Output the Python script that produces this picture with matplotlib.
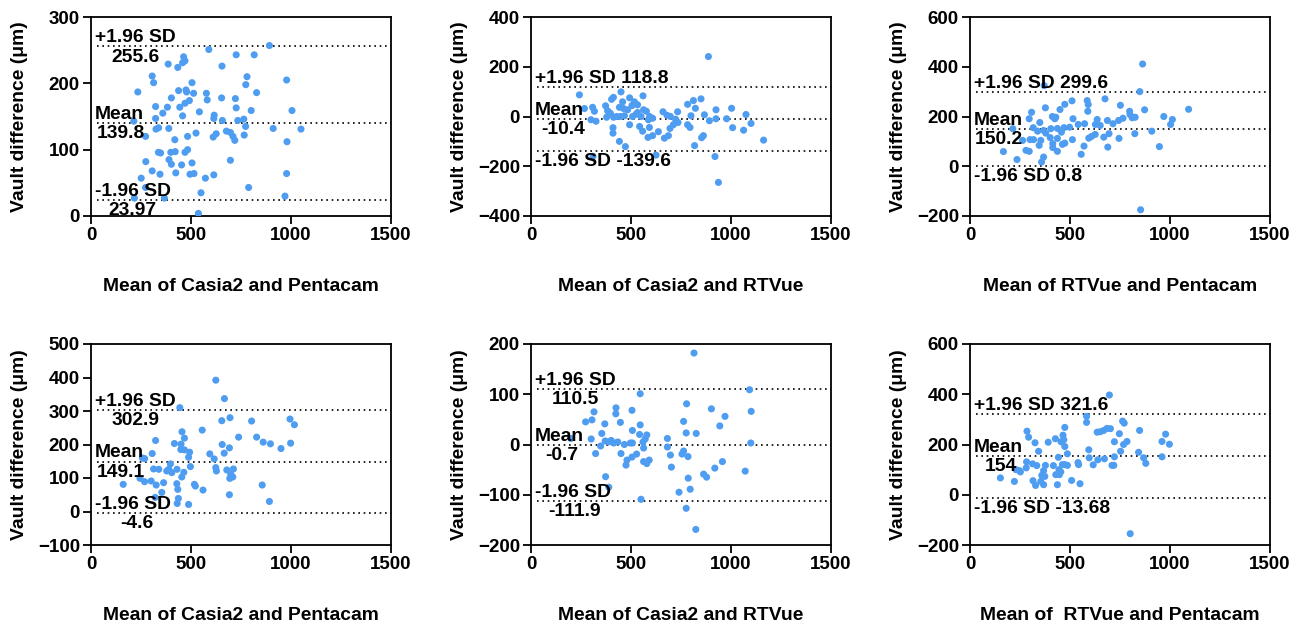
import matplotlib
matplotlib.use("Agg")
import matplotlib.pyplot as plt

plt.rcParams['font.family'] = ['Liberation Sans', 'DejaVu Sans']
plt.rcParams['font.weight'] = 'bold'

# ---------------- data ----------------
# Panel 1: Casia2 vs Pentacam (top-left)
p1_x = [892, 589, 726, 816, 463, 386, 434, 458, 470, 655, 306, 313, 780, 774, 978, 505, 234, 438, 475, 478,
        513, 577, 828, 402, 653, 581, 722, 492, 470, 444, 323, 382, 726, 801, 1005, 542, 359, 323, 458, 616,
        614, 657, 734, 764, 214, 773, 325, 338, 389, 911, 1050, 273, 525, 483, 611, 626, 677, 697, 710, 719,
        766, 419, 980, 337, 348, 399, 421, 470, 483, 274, 390, 402, 453, 505, 697, 306, 345, 424, 495, 515,
        614, 978, 251, 572, 273, 788, 550, 970, 217, 367, 537]
p1_y = [257, 251, 243, 243, 240, 229, 224, 231, 234, 226, 211, 201, 210, 198, 205, 201, 187, 189, 190, 187,
        185, 185, 186, 178, 178, 175, 177, 174, 170, 164, 165, 164, 163, 159, 159, 157, 155, 147, 151, 152,
        147, 144, 144, 146, 143, 135, 131, 133, 132, 132, 131, 120, 125, 120, 119, 124, 128, 126, 120, 114,
        122, 115, 112, 96, 95, 96, 97, 96, 100, 82, 85, 78, 77, 80, 84, 68, 63, 65, 63, 64,
        62, 64, 57, 57, 43, 43, 35, 30, 27, 27, 4]

# Panel 2: Casia2 vs RTVue (top-middle)
p2_x = [887, 242, 450, 412, 403, 493, 560, 517, 505, 533, 458, 463, 442, 373, 308, 317, 267, 383, 397, 413,
        378, 428, 447, 467, 483, 533, 563, 577, 593, 608, 587, 300, 325, 508, 525, 550, 660, 680, 697, 733,
        723, 735, 712, 695, 667, 687, 637, 608, 585, 543, 558, 592, 493, 410, 410, 442, 472, 625, 310, 783,
        812, 850, 822, 800, 783, 795, 867, 892, 925, 925, 862, 853, 818, 920, 937, 978, 1003, 1008, 1063, 1075,
        1100, 1163]
p2_y = [241, 87, 99, 77, 69, 75, 83, 59, 44, 47, 59, 32, 37, 43, 37, 21, 32, 23, 13, -3,
        -3, 0, 0, 3, 27, 16, 27, 21, 0, -7, -13, -13, -19, 0, 9, 0, 19, 5, 0, 19,
        -11, -24, -33, -48, -87, -77, -61, -77, -84, -40, -59, -44, -33, -45, -67, -100, -121, -155, -160, 49,
        64, 71, 33, 3, -33, -44, 7, -17, 27, -9, -77, -85, -117, -161, -265, -9, 33, -45, -55, 8,
        -28, -95]

# Panel 3: RTVue vs Pentacam (top-right)
p3_x = [863, 849, 371, 873, 1093, 675, 586, 591, 510, 474, 450, 377, 308, 589, 752, 798, 826, 811, 800, 765,
        743, 715, 687, 651, 636, 627, 573, 541, 515, 429, 412, 424, 296, 349, 214, 316, 338, 368, 379, 404,
        437, 470, 498, 457, 437, 462, 474, 512, 401, 414, 437, 414, 346, 354, 263, 300, 318, 280, 296, 167,
        235, 358, 368, 556, 570, 594, 608, 626, 669, 689, 695, 745, 824, 909, 969, 1012, 1003, 947, 853]
p3_y = [411, 300, 324, 227, 229, 271, 264, 248, 263, 249, 228, 235, 217, 221, 245, 221, 197, 195, 208, 193,
        184, 171, 184, 164, 188, 168, 171, 168, 191, 197, 200, 191, 191, 176, 151, 155, 141, 144, 133, 151,
        152, 155, 157, 137, 112, 88, 93, 107, 115, 91, 60, 75, 84, 104, 104, 107, 107, 64, 60, 59,
        27, 17, 37, 48, 81, 113, 120, 128, 117, 77, 131, 112, 131, 141, 200, 188, 168, 79, -175]

# Panel 4: Casia2 vs Pentacam (bottom-left)
p4_x = [624, 667, 444, 654, 695, 803, 995, 1017, 455, 556, 467, 738, 828, 861, 897, 998, 950, 323, 417, 450,
        449, 467, 493, 488, 306, 656, 692, 666, 594, 616, 257, 268, 313, 339, 389, 397, 379, 404, 430, 497,
        624, 627, 679, 712, 699, 709, 694, 464, 454, 245, 268, 301, 326, 363, 161, 429, 434, 517, 522, 560,
        856, 354, 321, 437, 431, 488, 692, 892]
p4_y = [392, 337, 310, 271, 280, 270, 276, 259, 238, 243, 219, 222, 222, 207, 202, 204, 188, 212, 203, 201,
        185, 184, 177, 162, 173, 200, 190, 174, 172, 157, 160, 158, 127, 126, 126, 142, 121, 116, 126, 134,
        131, 121, 124, 127, 111, 103, 99, 117, 103, 99, 89, 91, 79, 86, 81, 83, 66, 81, 76, 64,
        79, 57, 42, 39, 24, 21, 50, 30]

# Panel 5: Casia2 vs RTVue (bottom-middle)
p5_x = [815, 1093, 1101, 1099, 1071, 546, 778, 902, 970, 944, 425, 424, 315, 505, 273, 305, 369, 447, 546, 507,
        354, 301, 199, 543, 579, 571, 560, 682, 763, 776, 826, 371, 387, 401, 414, 434, 467, 497, 507, 348,
        323, 563, 450, 682, 697, 763, 755, 785, 528, 505, 480, 475, 563, 579, 591, 702, 957, 919, 863, 878,
        786, 373, 389, 796, 740, 550, 776, 824]
p5_y = [182, 109, 66, 3, -53, 101, 81, 71, 56, 37, 73, 61, 65, 68, 45, 49, 41, 44, 39, 28,
        22, 11, 12, 20, 19, 11, 5, 12, 46, 23, 22, 7, 5, 8, 3, 5, 0, 3, 3, -3,
        -18, -7, -18, -5, -21, -13, -19, -24, -19, -25, -31, -41, -34, -38, -31, -45, -34, -47, -59, -65,
        -67, -64, -85, -89, -95, -109, -127, -169]

# Panel 6: RTVue vs Pentacam (bottom-right)
p6_x = [697, 583, 583, 763, 771, 685, 702, 669, 652, 636, 848, 747, 978, 960, 997, 960, 785, 768, 722, 753,
        843, 868, 879, 722, 672, 639, 710, 719, 616, 594, 596, 540, 543, 550, 508, 474, 465, 469, 474, 427,
        455, 487, 442, 474, 487, 462, 417, 445, 454, 429, 447, 437, 391, 325, 343, 285, 293, 283, 281, 313,
        334, 377, 368, 359, 374, 354, 368, 328, 315, 247, 230, 252, 222, 152, 801]
p6_y = [397, 312, 288, 293, 285, 264, 263, 256, 251, 249, 256, 243, 241, 212, 201, 151, 212, 200, 211, 173,
        169, 147, 125, 151, 143, 139, 117, 117, 119, 179, 147, 128, 120, 44, 57, 268, 237, 219, 192, 223,
        211, 163, 149, 120, 117, 120, 116, 100, 91, 80, 80, 40, 209, 207, 173, 253, 229, 131, 107, 123,
        116, 117, 96, 77, 73, 53, 40, 37, 56, 96, 100, 91, 53, 67, -155]

xlabels = ["Mean of Casia2 and Pentacam", "Mean of Casia2 and RTVue", "Mean of RTVue and Pentacam",
           "Mean of Casia2 and Pentacam", "Mean of Casia2 and RTVue", "Mean of  RTVue and Pentacam"]
upper_vals = [255.6, 118.8, 299.6, 302.9, 110.5, 321.6]
mean_vals = [139.8, -10.4, 150.2, 149.1, -0.7, 154]
lower_vals = [23.97, -139.6, 0.8, -4.6, -111.9, -13.68]
upper_txt = ["255.6", "118.8", "299.6", "302.9", "110.5", "321.6"]
mean_txt = ["139.8", "-10.4", "150.2", "149.1", "-0.7", "154"]
lower_txt = ["23.97", "-139.6", "0.8", "-4.6", "-111.9", "-13.68"]
ylims = [(0, 300), (-400, 400), (-200, 600), (-100, 500), (-200, 200), (-200, 600)]
yticks = [[0, 100, 200, 300], [-400, -200, 0, 200, 400], [-200, 0, 200, 400, 600],
          [-100, 0, 100, 200, 300, 400, 500], [-200, -100, 0, 100, 200], [-200, 0, 200, 400, 600]]
xticks = [0, 500, 1000, 1500]

xs = [p1_x, p2_x, p3_x, p4_x, p5_x, p6_x]
ys = [p1_y, p2_y, p3_y, p4_y, p5_y, p6_y]

upper_style = ['two', 'one_above', 'one_above', 'two', 'two', 'one_above']
lower_style = ['two', 'one_below', 'one_below', 'two', 'two', 'one_below']
upper_indent = [20, 0, 0, 21, 21, 0]
mean_indent = [6, 10, 5, 6, 14, 15]
lower_indent = [17, 0, 0, 29, 17, 0]

# ---------------- figure ----------------
W, H = 1304, 631
fig = plt.figure(figsize=(W / 100, H / 100), dpi=100)

ax_px = [(91, 17, 300, 199), (531, 17, 300, 199), (970, 17, 300, 199),
         (91, 344, 300, 201), (531, 344, 300, 201), (970, 344, 300, 201)]

COLOR = '#4F9DF0'
FS = 13.9
PX = 0.72  # px -> pt

for i in range(6):
    l, t, w, h = ax_px[i]
    ax = fig.add_axes([l / W, 1 - (t + h) / H, w / W, h / H])
    ax.scatter(xs[i], ys[i], s=26, color=COLOR, edgecolors='none', zorder=3)
    ax.set_xlim(0, 1500)
    ax.set_ylim(*ylims[i])
    ax.set_xticks(xticks)
    ax.set_yticks(yticks[i])
    ax.tick_params(direction='out', length=6, width=1.3, labelsize=13.5, pad=2)
    for lab in ax.get_xticklabels() + ax.get_yticklabels():
        lab.set_fontweight('bold')
    for sp in ax.spines.values():
        sp.set_linewidth(1.3)
        sp.set_color('black')

    for v in (upper_vals[i], mean_vals[i], lower_vals[i]):
        ax.axhline(v, xmin=0.02, xmax=1, color='black', linestyle=(0, (1, 2.2)), linewidth=1.2, zorder=2)

    tr = ('axes fraction', 'data')

    def above(txt, val, dx=4):
        ax.annotate(txt, xy=(0, val), xycoords=tr, xytext=(dx * PX, 3), textcoords='offset points',
                    ha='left', va='baseline', fontsize=FS, fontweight='bold', zorder=4)

    def below(txt, val, dx=4):
        ax.annotate(txt, xy=(0, val), xycoords=tr, xytext=(dx * PX, -1.5), textcoords='offset points',
                    ha='left', va='top', fontsize=FS, fontweight='bold', zorder=4, annotation_clip=False)

    if upper_style[i] == 'two':
        above("+1.96 SD", upper_vals[i])
        below(upper_txt[i], upper_vals[i], upper_indent[i])
    else:
        above("+1.96 SD " + upper_txt[i], upper_vals[i])
    above("Mean", mean_vals[i])
    below(mean_txt[i], mean_vals[i], mean_indent[i])
    if lower_style[i] == 'two':
        above("-1.96 SD", lower_vals[i])
        below(lower_txt[i], lower_vals[i], lower_indent[i])
    else:
        below("-1.96 SD " + lower_txt[i], lower_vals[i])

    ax.set_xlabel(xlabels[i], fontsize=FS, fontweight='bold')
    ax.set_ylabel("Vault difference (μm)", fontsize=FS, fontweight='bold')
    ax.xaxis.set_label_coords(0.5, -62 / h)
    ax.yaxis.set_label_coords(-63 / w, 0.5)

fig.savefig("out.png", dpi=100)
